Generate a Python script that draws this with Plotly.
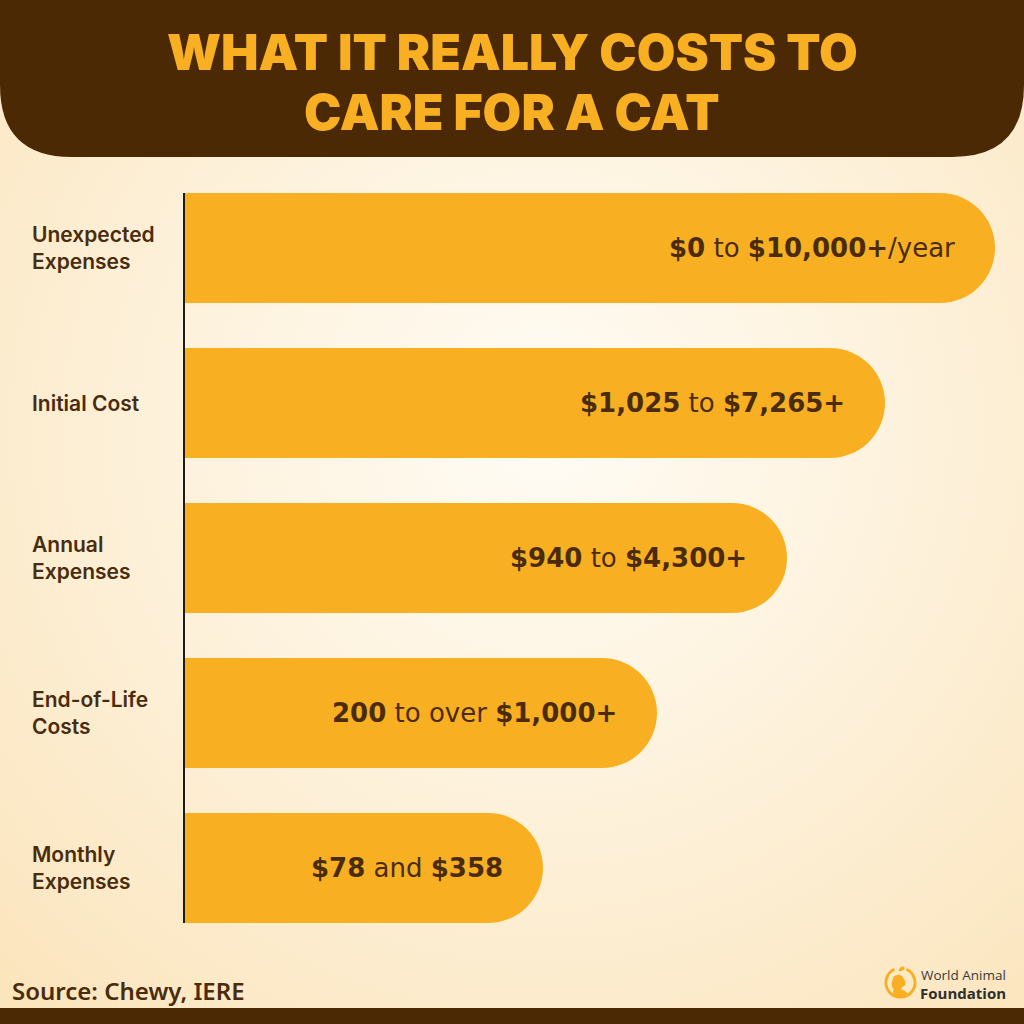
import base64
import plotly.graph_objects as go

# ---------------- data ----------------
categories = ["Unexpected<br>Expenses", "Initial Cost", "Annual<br>Expenses",
              "End-of-Life<br>Costs", "Monthly<br>Expenses"]
bar_lengths = [810, 700, 602, 472, 358]   # visual bar lengths
value_labels = ["<b>$0</b> to <b>$10,000+</b>/year",
                "<b>$1,025</b> to <b>$7,265+</b>",
                "<b>$940</b> to <b>$4,300+</b>",
                "<b>200</b> to over <b>$1,000+</b>",
                "<b>$78</b> and <b>$358</b>"]
title_lines = ["WHAT IT REALLY COSTS TO", "CARE FOR A CAT"]
source_text = "Source: Chewy, IERE"

# ---------------- style ----------------
W = H = 1024
BROWN = "#4a2904"
TEXT_BROWN = "#4a2c0d"
ORANGE = "#f8b022"


def px(x):
    return x / W


def py(y):
    return 1 - y / H


def svg_uri(svg):
    return "data:image/svg+xml;base64," + base64.b64encode(svg.encode()).decode()


bg_svg = f"""<svg xmlns='http://www.w3.org/2000/svg' width='{W}' height='{H}'>
<defs><radialGradient id='g' cx='0.53' cy='0.42' r='0.75'>
<stop offset='0' stop-color='#fffcf5'/><stop offset='0.55' stop-color='#fdf0d8'/>
<stop offset='1' stop-color='#fbe5bd'/></radialGradient></defs>
<rect width='{W}' height='{H}' fill='url(#g)'/></svg>"""

logo_svg = """<svg xmlns='http://www.w3.org/2000/svg' width='40' height='44' viewBox='0 0 40 44'>
<path d='M14 8 A16 16 0 1 0 27 8' fill='none' stroke='#f8b022' stroke-width='3.2'/>
<path d='M18 10 q2 -6 6 -5 q2 1 1 3 l-3 2 z' fill='#f8b022'/>
<path d='M13 16 q5 -4 10 0 l3 6 q1 4 -3 5 l-2 3 q4 1 8 5 q-6 5 -14 3 q-4 -3 -2 -8 q-3 -3 -2 -8 z' fill='#f8b022'/>
</svg>"""

fig = go.Figure()
fig.add_trace(go.Bar(
    y=categories, x=bar_lengths, orientation="h",
    marker=dict(color=ORANGE, line=dict(width=0)),
    hoverinfo="skip",
))

annotations = []
for cat, val, lab in zip(categories, bar_lengths, value_labels):
    annotations.append(dict(
        x=val, y=cat, xref="x", yref="y", xanchor="right", yanchor="middle",
        xshift=-38, text=lab, showarrow=False,
        font=dict(family="DejaVu Sans", size=26, color=TEXT_BROWN)))
    annotations.append(dict(
        x=px(30), y=cat, xref="paper", yref="y", xanchor="left", yanchor="middle",
        align="left", text=cat, showarrow=False,
        font=dict(family="Inter", size=21, color=TEXT_BROWN, weight=600)))

for line, yc in zip(title_lines, [52, 112]):
    annotations.append(dict(
        x=0.5, y=py(yc), xref="paper", yref="paper", xanchor="center", yanchor="middle",
        text=line, showarrow=False,
        font=dict(family="Inter", size=50, color=ORANGE, weight=900)))

annotations.append(dict(
    x=px(10), y=py(990), xref="paper", yref="paper", xanchor="left", yanchor="middle",
    text=source_text, showarrow=False,
    font=dict(family="Noto Sans", size=24, color=TEXT_BROWN, weight=600)))
annotations.append(dict(
    x=px(919), y=py(975), xref="paper", yref="paper", xanchor="left", yanchor="middle",
    text="World Animal", showarrow=False,
    font=dict(family="Open Sans", size=13.5, color="#3a3a3a")))
annotations.append(dict(
    x=px(918), y=py(993), xref="paper", yref="paper", xanchor="left", yanchor="middle",
    text="<b>Foundation</b>", showarrow=False,
    font=dict(family="Open Sans", size=15, color="#2e2e2e")))

# banner with rounded bottom corners
r = 72
bb = 157
banner_path = (
    f"M {px(0)} {py(0)} L {px(W)} {py(0)} L {px(W)} {py(bb - r)} "
    f"Q {px(W)} {py(bb)} {px(W - r)} {py(bb)} L {px(r)} {py(bb)} "
    f"Q {px(0)} {py(bb)} {px(0)} {py(bb - r)} Z"
)
shapes = [
    dict(type="path", path=banner_path, xref="paper", yref="paper",
         fillcolor=BROWN, line=dict(width=0), layer="above"),
    dict(type="rect", x0=0, x1=1, y0=py(H), y1=py(1008), xref="paper", yref="paper",
         fillcolor=BROWN, line=dict(width=0), layer="above"),
]

fig.update_layout(
    width=W, height=H,
    margin=dict(l=0, r=0, t=0, b=0),
    paper_bgcolor="#fdf0d8", plot_bgcolor="rgba(0,0,0,0)",
    showlegend=False,
    bargap=0.29,
    barcornerradius=55,
    xaxis=dict(domain=[px(185), 1], range=[0, W - 185], visible=False, fixedrange=True),
    yaxis=dict(domain=[py(923), py(193)], range=[4.355, -0.355], type="category",
               showticklabels=False, showgrid=False, zeroline=False,
               showline=True, linecolor="#1c1c1c", linewidth=2, ticks="", fixedrange=True),
    annotations=annotations,
    shapes=shapes,
    images=[
        dict(source=svg_uri(bg_svg), xref="paper", yref="paper", x=0, y=1,
             sizex=1, sizey=1, sizing="stretch", layer="below", xanchor="left", yanchor="top"),
        dict(source=svg_uri(logo_svg), xref="paper", yref="paper", x=px(880), y=py(962),
             sizex=px(40), sizey=40 / H, sizing="contain", layer="above",
             xanchor="left", yanchor="top"),
    ],
)

fig.write_html("out.html", config={"displayModeBar": False},
               post_script="document.body.style.margin='0';document.body.style.padding='0';")
